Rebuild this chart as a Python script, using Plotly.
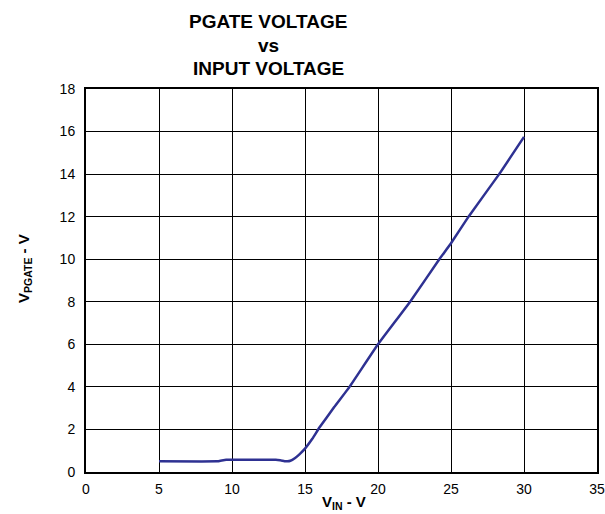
import plotly.graph_objects as go

vin = [5.0, 9.0, 9.3, 9.6, 13.0, 13.3, 13.6, 13.8, 14.0, 14.3, 14.6, 15.0, 15.5, 16.0, 17.0, 18.05, 20.0, 22.2, 24.2, 25.0, 26.2, 28.3, 30.0]
vpgate = [0.5, 0.5, 0.54, 0.57, 0.57, 0.55, 0.51, 0.5, 0.53, 0.65, 0.82, 1.1, 1.56, 2.1, 3.05, 4.0, 6.0, 8.0, 10.0, 10.75, 12.0, 14.0, 15.75]

x_ticks = [0, 5, 10, 15, 20, 25, 30, 35]
y_ticks = [0, 2, 4, 6, 8, 10, 12, 14, 16, 18]
title_lines = ["PGATE VOLTAGE", "vs", "INPUT VOLTAGE"]

FONT = "Arial, Liberation Sans, sans-serif"
W, H = 605, 514
# plot area in window pixels
PL, PR, PT, PB = 86, 597, 89, 472
L, R, T, B = PL, W - PR, PT, H - PB
PW, PH = W - L - R, H - T - B

def px(xw):
    return (xw - L) / PW

def py(yw):
    return (H - B - yw) / PH

fig = go.Figure()
fig.add_trace(go.Scatter(x=vin, y=vpgate, mode="lines",
                         line=dict(color="#2e3192", width=2.5, shape="spline", smoothing=0.3),
                         showlegend=False, hoverinfo="skip"))

fig.update_layout(
    width=W, height=H,
    paper_bgcolor="white", plot_bgcolor="white",
    margin=dict(l=L, r=R, t=T, b=B, autoexpand=False),
    font=dict(family=FONT, size=14, color="black"),
)
fig.update_xaxes(range=[0, 35], tickvals=x_ticks, ticktext=[str(v) for v in x_ticks],
                 showgrid=True, gridcolor="black", gridwidth=1,
                 showline=True, linecolor="black", linewidth=2, mirror=True,
                 ticks="", ticklabelstandoff=3, zeroline=False, automargin=False)
fig.update_yaxes(range=[0, 18], tickvals=y_ticks, ticktext=[str(v) for v in y_ticks],
                 showgrid=True, gridcolor="black", gridwidth=1,
                 showline=True, linecolor="black", linewidth=2, mirror=True,
                 ticks="", ticklabelstandoff=6, zeroline=False, automargin=False)

for i, line in enumerate(title_lines):
    fig.add_annotation(text="<b>%s</b>" % line, xref="paper", yref="paper",
                       x=px(268), y=py(21 + 24 * i), xanchor="center", yanchor="middle",
                       showarrow=False, font=dict(family=FONT, size=19, color="black"))

fig.add_annotation(text="<b>V<sub>IN</sub> - V</b>", xref="paper", yref="paper",
                   x=px(344), y=py(502), xanchor="center", yanchor="middle",
                   showarrow=False, font=dict(family=FONT, size=15, color="black"))

fig.add_annotation(text="<b>V<sub>PGATE</sub> - V</b>", textangle=-90,
                   xref="paper", yref="paper", x=px(24), y=py(269),
                   xanchor="center", yanchor="middle", showarrow=False,
                   font=dict(family=FONT, size=15, color="black"))

fig.write_html("out.html", config={"displayModeBar": False, "staticPlot": True},
               post_script="document.body.style.margin='0';document.body.style.overflow='hidden';")
